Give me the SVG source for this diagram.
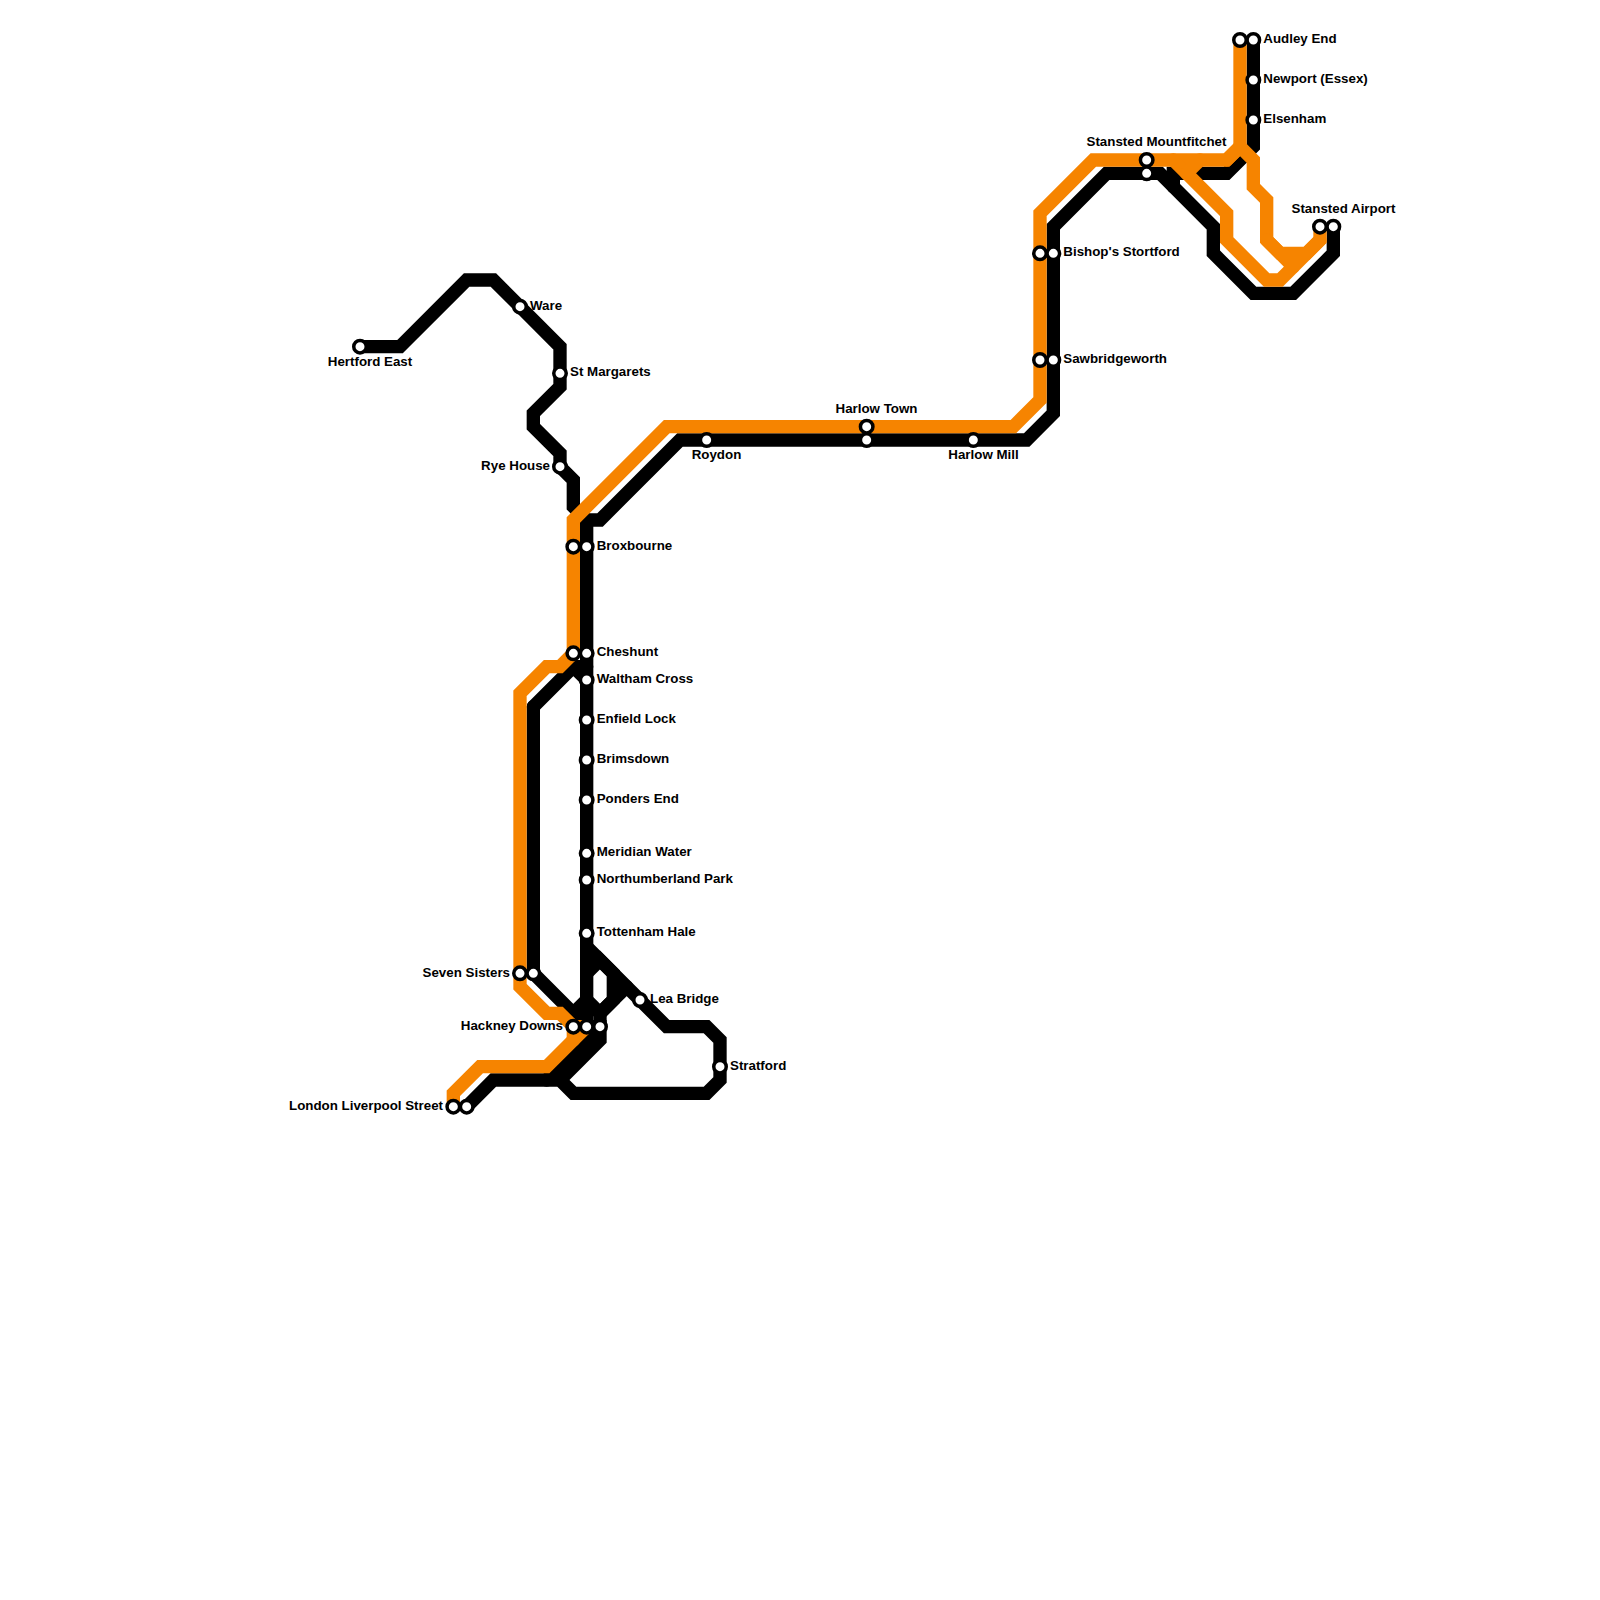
<svg xmlns="http://www.w3.org/2000/svg" width="1600" height="1600" viewBox="0 0 1600 1600">
<style>
.l{fill:none;stroke-width:1;stroke-linecap:round;stroke-linejoin:miter}
.k{stroke:#000}
.o{stroke:#f68400}
.s{fill:#fff;stroke:#000;stroke-width:3.5}
text{font-family:"Liberation Sans",Arial,sans-serif;font-weight:700;font-size:13.33px;fill:#000}
.e{text-anchor:end}
.m{text-anchor:middle}
</style>
<rect width="1600" height="1600" fill="#fff"/>
<g id="connectors" transform="scale(13.33333)">
<g class="l k">
<path d="M27 26H30L35 21H37L42 26V29L40 31V32L42 34V35L43 36V38L44 39H45L51 33H77L79 31V17L83 13H87L91 17V19L94 22H97L100 19V17"/>
<path d="M44 39V77"/>
<path d="M94 3V11L92 13H88V14"/>
<path d="M40 53L43 50L44 51"/>
<path d="M43 50H44"/>
<path d="M40 53V73L44 77H45V78L42 81"/>
<path d="M41 81L45 77"/>
<path d="M44 71L50 77H53L54 78V81L53 82H43L42 81H37L35 83"/>
<path d="M43 76L44 75L45 76L46 75V73L45 72L44 73"/>
<path d="M45 76L47 74"/>
<path d="M45 76V77"/>
</g>
<g class="l o">
<path d="M93 3V11"/>
<path d="M92 12L93 11L94 12V14L95 15V18L97 20"/>
<path d="M93 11L92 12H82L78 16V30L76 32H50L43 39V49L42 50H41L39 52V74L41 76H42L43 77H44"/>
<path d="M43 77V78"/>
<path d="M44 77L41 80H36L34 82V83"/>
<path d="M88 12L92 16V18L95 21H96L99 18V17"/>
<path d="M90 12L89 13"/>
<path d="M95 18L96 19H98L99 18"/>
</g>
</g>
<g id="hertford-east"><circle class="s" cx="360" cy="346.67" r="6.25"/><text class="m" x="370" y="366">Hertford East</text></g>
<g id="ware"><circle class="s" cx="520" cy="306.67" r="6.25"/><text x="530" y="310">Ware</text></g>
<g id="st-margarets"><circle class="s" cx="560" cy="373.33" r="6.25"/><text x="570" y="376.2">St Margarets</text></g>
<g id="rye-house"><circle class="s" cx="560" cy="466.67" r="6.25"/><text class="e" x="550" y="470">Rye House</text></g>
<g id="broxbourne"><circle class="s" cx="573.33" cy="546.67" r="6.25"/><circle class="s" cx="586.67" cy="546.67" r="6.25"/><text x="596.7" y="550">Broxbourne</text></g>
<g id="cheshunt"><circle class="s" cx="573.33" cy="653.33" r="6.25"/><circle class="s" cx="586.67" cy="653.33" r="6.25"/><text x="596.7" y="656.2">Cheshunt</text></g>
<g id="waltham-cross"><circle class="s" cx="586.67" cy="680" r="6.25"/><text x="596.7" y="683">Waltham Cross</text></g>
<g id="enfield-lock"><circle class="s" cx="586.67" cy="720" r="6.25"/><text x="596.7" y="723">Enfield Lock</text></g>
<g id="brimsdown"><circle class="s" cx="586.67" cy="760" r="6.25"/><text x="596.7" y="763">Brimsdown</text></g>
<g id="ponders-end"><circle class="s" cx="586.67" cy="800" r="6.25"/><text x="596.7" y="803">Ponders End</text></g>
<g id="meridian-water"><circle class="s" cx="586.67" cy="853.33" r="6.25"/><text x="596.7" y="856.2">Meridian Water</text></g>
<g id="northumberland-park"><circle class="s" cx="586.67" cy="880" r="6.25"/><text x="596.7" y="883">Northumberland Park</text></g>
<g id="tottenham-hale"><circle class="s" cx="586.67" cy="933.33" r="6.25"/><text x="596.7" y="936.2">Tottenham Hale</text></g>
<g id="seven-sisters"><circle class="s" cx="520" cy="973.33" r="6.25"/><circle class="s" cx="533.33" cy="973.33" r="6.25"/><text class="e" x="510" y="976.5">Seven Sisters</text></g>
<g id="lea-bridge"><circle class="s" cx="640" cy="1000" r="6.25"/><text x="650" y="1003">Lea Bridge</text></g>
<g id="hackney-downs"><circle class="s" cx="573.33" cy="1026.67" r="6.25"/><circle class="s" cx="586.67" cy="1026.67" r="6.25"/><circle class="s" cx="600" cy="1026.67" r="6.25"/><text class="e" x="563" y="1030">Hackney Downs</text></g>
<g id="stratford"><circle class="s" cx="720" cy="1066.67" r="6.25"/><text x="730" y="1070">Stratford</text></g>
<g id="london-liverpool-street"><circle class="s" cx="453.33" cy="1106.67" r="6.25"/><circle class="s" cx="466.67" cy="1106.67" r="6.25"/><text class="e" x="443" y="1110">London Liverpool Street</text></g>
<g id="roydon"><circle class="s" cx="706.67" cy="440" r="6.25"/><text class="m" x="716.5" y="459">Roydon</text></g>
<g id="harlow-town"><circle class="s" cx="866.67" cy="426.67" r="6.25"/><circle class="s" cx="866.67" cy="440" r="6.25"/><text class="m" x="876.5" y="413">Harlow Town</text></g>
<g id="harlow-mill"><circle class="s" cx="973.33" cy="440" r="6.25"/><text class="m" x="983.5" y="459">Harlow Mill</text></g>
<g id="sawbridgeworth"><circle class="s" cx="1040" cy="360" r="6.25"/><circle class="s" cx="1053.33" cy="360" r="6.25"/><text x="1063.3" y="363">Sawbridgeworth</text></g>
<g id="bishops-stortford"><circle class="s" cx="1040" cy="253.33" r="6.25"/><circle class="s" cx="1053.33" cy="253.33" r="6.25"/><text x="1063.3" y="256.3">Bishop's Stortford</text></g>
<g id="stansted-mountfitchet"><circle class="s" cx="1146.67" cy="160" r="6.25"/><circle class="s" cx="1146.67" cy="173.33" r="6.25"/><text class="m" x="1156.5" y="146">Stansted Mountfitchet</text></g>
<g id="stansted-airport"><circle class="s" cx="1320" cy="226.67" r="6.25"/><circle class="s" cx="1333.33" cy="226.67" r="6.25"/><text class="m" x="1343.5" y="213">Stansted Airport</text></g>
<g id="elsenham"><circle class="s" cx="1253.33" cy="120" r="6.25"/><text x="1263.3" y="123">Elsenham</text></g>
<g id="newport-essex"><circle class="s" cx="1253.33" cy="80" r="6.25"/><text x="1263.3" y="83">Newport (Essex)</text></g>
<g id="audley-end"><circle class="s" cx="1240" cy="40" r="6.25"/><circle class="s" cx="1253.33" cy="40" r="6.25"/><text x="1263.3" y="43">Audley End</text></g>
</svg>
